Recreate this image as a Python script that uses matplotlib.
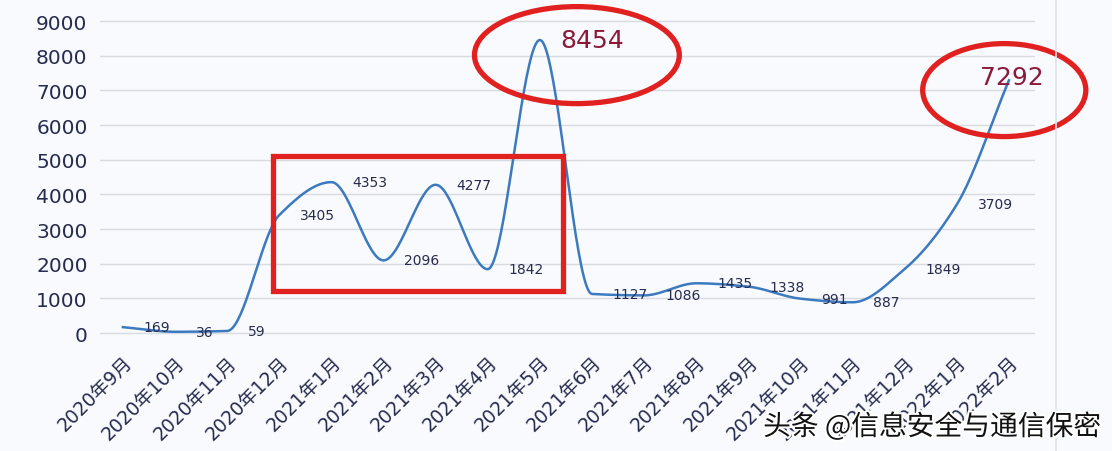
import numpy as np
import matplotlib
matplotlib.use('Agg')
import matplotlib.pyplot as plt
from matplotlib.patches import Ellipse, Rectangle
import matplotlib.patheffects as pe

plt.rcParams['font.family'] = ['DejaVu Sans', 'Noto Sans CJK SC']

months = ['2020年9月', '2020年10月', '2020年11月', '2020年12月',
          '2021年1月', '2021年2月', '2021年3月', '2021年4月', '2021年5月',
          '2021年6月', '2021年7月', '2021年8月', '2021年9月', '2021年10月',
          '2021年11月', '2021年12月', '2022年1月', '2022年2月']
counts = [169, 36, 59, 3405, 4353, 2096, 4277, 1842, 8454,
          1127, 1086, 1435, 1338, 991, 887, 1849, 3709, 7292]
y_ticks = list(range(0, 10000, 1000))
highlight = [8, 17]

line_col = '#3c7ac0'
text_col = '#262b4f'
red = '#e0211f'
big_col = '#8b1a3a'
bg = '#f8fafd'


def smooth(y, n=40):
    # monotone cubic (pchip-like) so the curve doesn't overshoot, similar to the excel look
    y = np.asarray(y, float)
    m = np.diff(y)
    d = np.zeros_like(y)
    for i in range(1, len(y) - 1):
        if m[i - 1] * m[i] > 0:
            d[i] = 2.0 / (1.0 / m[i - 1] + 1.0 / m[i])
    d[0] = m[0]
    d[-1] = m[-1]
    xs, ys = [], []
    t = np.linspace(0, 1, n)
    h00 = 2 * t ** 3 - 3 * t ** 2 + 1
    h10 = t ** 3 - 2 * t ** 2 + t
    h01 = -2 * t ** 3 + 3 * t ** 2
    h11 = t ** 3 - t ** 2
    for i in range(len(y) - 1):
        ys.append(h00 * y[i] + h10 * d[i] + h01 * y[i + 1] + h11 * d[i + 1])
        xs.append(i + t)
    return np.concatenate(xs), np.concatenate(ys)


fig = plt.figure(figsize=(11.12, 4.52), dpi=100)
fig.patch.set_facecolor(bg)
ax = fig.add_axes([100 / 1112, 0.2367, 935 / 1112, 0.741])
ax.set_facecolor(bg)

x = np.arange(len(months))
sx, sy = smooth(counts)
ax.plot(sx, sy, color=line_col, lw=1.8, zorder=3)

for i, v in enumerate(counts):
    if i in highlight:
        continue
    ax.annotate(str(v), (x[i], v), xytext=(15, 0), textcoords='offset points',
                ha='left', va='center', fontsize=10, color=text_col, zorder=4)

ax.annotate(str(counts[8]), (x[8], counts[8]), xytext=(15, 0), textcoords='offset points',
            ha='left', va='center', fontsize=18, color=big_col, zorder=6)
ax.annotate(str(counts[17]), (x[17], counts[17]), xytext=(2, 2), textcoords='offset points',
            ha='center', va='center', fontsize=18, color=big_col, zorder=6)

ax.add_patch(Ellipse((8.71, 8018), 3.93, 2798, fill=False, ec=red, lw=3.8, zorder=5, clip_on=False))
ax.add_patch(Ellipse((16.91, 7009), 3.13, 2682, fill=False, ec=red, lw=3.8, zorder=5, clip_on=False))
ax.add_patch(Rectangle((2.88, 1211), 8.45 - 2.88, 5105 - 1211, fill=False, ec=red, lw=3.8,
                       zorder=5, clip_on=False))

ax.set_xlim(-0.44, 17.5)
ax.set_ylim(-317, 9346)
ax.set_yticks(y_ticks)
ax.set_yticklabels([str(t) for t in y_ticks], fontsize=14.5, color=text_col)
ax.set_xticks(x)
ax.set_xticklabels(months, rotation=45, ha='right', va='top', rotation_mode='anchor',
                   fontsize=13.5, color=text_col)
ax.tick_params(length=0)
ax.tick_params(axis='y', pad=9)
ax.tick_params(axis='x', pad=6)
ax.grid(axis='y', color='#d8dbe0', lw=1)
ax.set_axisbelow(True)
for s in ax.spines.values():
    s.set_visible(False)

fig.add_artist(plt.Line2D([1056 / 1112, 1056 / 1112], [0, 1], color='#dde2ea', lw=1.2))

fig.text(0.99, 0.053, '头条 @信息安全与通信保密', ha='right', va='center', fontsize=20,
         family=['Noto Sans CJK SC', 'DejaVu Sans'], color='#111111',
         path_effects=[pe.withStroke(linewidth=3, foreground='white')])

fig.savefig('out.png', dpi=100, facecolor=bg)
